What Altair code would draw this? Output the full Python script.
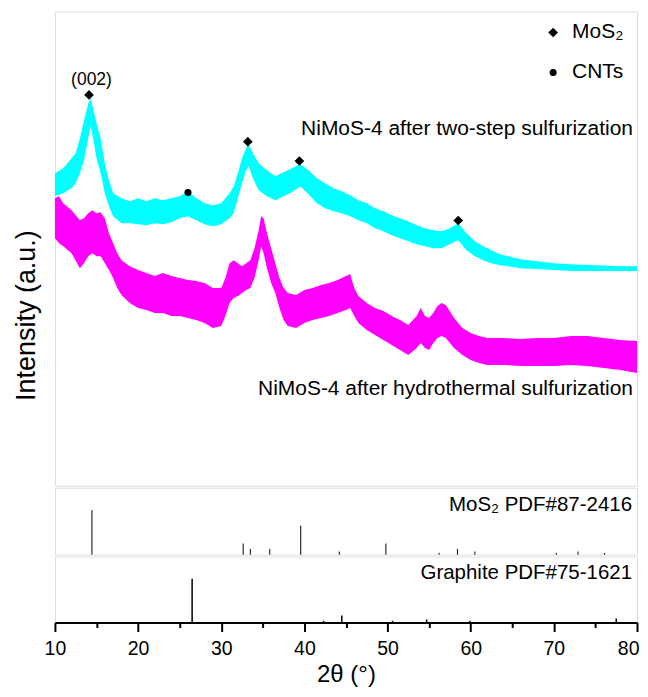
import altair as alt
import pandas as pd

# ---------------- data ----------------
# NiMoS-4 after two-step sulfurization (cyan): noisy band upper / lower edge
two_x = [10, 11, 12, 12.5, 13, 13.5, 14, 14.3, 14.6, 15, 15.5, 16, 16.5, 17, 18, 19, 20, 21, 22, 23, 24, 25,
         26, 27, 28, 29, 30, 31, 31.5, 32, 32.5, 33, 33.3, 33.8, 34.5, 35.5, 36.5, 37.5, 38.5, 39.5, 40.5,
         41.5, 42.5, 43.5, 44.5, 45.5, 46.5, 47.5, 48.5, 49.5, 50.5, 51.5, 52.5, 53.5, 54.5, 55.5, 56.5,
         57.5, 58.5, 59.5, 60.5, 61.5, 62.5, 63.5, 64.5, 66, 68, 70, 72, 75, 78, 80]
two_hi = [313, 318, 328, 333, 348, 366, 383, 388, 378, 363, 348, 323, 306, 293, 288, 285, 288, 285, 288, 286,
          288, 290, 295, 288, 283, 281, 283, 293, 300, 313, 328, 338, 342, 333, 323, 316, 310, 314, 318, 322,
          316, 308, 303, 298, 295, 291, 286, 283, 278, 275, 271, 268, 265, 261, 258, 256, 255, 258, 263, 253,
          245, 240, 236, 232, 230, 227, 225, 223, 222, 221, 220, 220]
two_lo = [290, 293, 298, 303, 313, 326, 348, 360, 348, 328, 313, 293, 280, 270, 263, 263, 262, 261, 263, 262,
          264, 268, 270, 266, 262, 260, 262, 268, 273, 288, 303, 316, 320, 308, 296, 290, 286, 290, 294, 300,
          292, 283, 278, 275, 273, 270, 266, 263, 258, 255, 251, 248, 245, 242, 240, 238, 238, 242, 246, 236,
          230, 226, 223, 221, 220, 218, 217, 216, 215, 215, 215, 215]

# NiMoS-4 after hydrothermal sulfurization (magenta): noisy band upper / lower edge
hyd_x = [10, 10.5, 11, 12, 13, 13.5, 14, 14.5, 15, 15.5, 16, 16.5, 17, 17.5, 18, 19, 20, 21, 22, 23, 24, 25,
         26, 27, 28, 29, 30, 30.5, 31, 31.5, 32, 32.5, 33, 33.5, 34, 34.5, 34.8, 35.1, 35.5, 36, 36.5, 37,
         37.5, 38, 39, 40, 41, 42, 43, 44, 45, 45.5, 46, 46.5, 47.5, 48.5, 49.5, 50.5, 51.5, 52.5, 53.5, 54,
         54.5, 55, 55.5, 56, 56.5, 57, 58, 59, 60, 61, 62, 64, 66, 68, 70, 72, 74, 76, 78, 80]
hyd_hi = [288, 290, 283, 276, 266, 268, 273, 276, 273, 274, 268, 253, 243, 233, 226, 220, 216, 213, 210, 213,
          210, 208, 206, 205, 203, 198, 198, 208, 223, 226, 223, 220, 223, 226, 238, 256, 270, 268, 253, 238,
          223, 208, 198, 193, 191, 196, 198, 201, 203, 206, 210, 212, 198, 190, 183, 178, 175, 170, 166, 161,
          170, 178, 170, 168, 173, 180, 183, 181, 168, 158, 153, 150, 148, 148, 147, 148, 148, 150, 150, 148,
          146, 145]
hyd_lo = [248, 243, 240, 233, 218, 223, 230, 233, 230, 230, 223, 216, 208, 198, 191, 183, 178, 176, 173, 173,
          170, 170, 168, 166, 163, 158, 160, 170, 183, 188, 190, 193, 196, 198, 208, 226, 240, 233, 218, 203,
          193, 178, 166, 160, 158, 163, 166, 168, 170, 173, 176, 178, 170, 163, 156, 151, 146, 141, 136, 131,
          138, 143, 138, 136, 143, 148, 150, 148, 138, 131, 126, 123, 121, 121, 120, 120, 120, 121, 120, 118,
          116, 113]

# peak markers
mark_x = [14.1, 33.2, 39.4, 58.5, 26.0]
mark_y = [391.5, 344.7, 325.3, 265.7, 293.7]
mark_kind = ["MoS₂", "MoS₂", "MoS₂", "MoS₂", "CNTs"]

# standard patterns (relative intensity)
mos2_pos = [14.45, 32.64, 33.5, 35.84, 39.56, 44.2, 49.8, 56.2, 58.4, 60.5, 70.3, 72.9, 76.1]
mos2_int = [100, 25, 13, 13, 65, 7, 25, 4, 13, 7, 4, 7, 4]
gr_pos = [26.5, 42.3, 44.5, 50.6, 54.7, 59.9, 77.5]
gr_int = [100, 4, 16, 4, 7, 4, 9]

# annotation texts
top_labels = ["NiMoS-4 after two-step sulfurization", "NiMoS-4 after hydrothermal sulfurization"]
top_label_y = [351, 90.5]
peak_label = ["(002)"]
peak_label_x = [14.4]
peak_label_y = [401]
mos2_label = ["MoS₂ PDF#87-2416"]
gr_label = ["Graphite PDF#75-1621"]
ref_label_y = [99]

# ---------------- chart ----------------
FONT = "Liberation Sans"
W = 583
xscale = alt.Scale(domain=[10, 80], nice=False, zero=False)
ytop = alt.Scale(domain=[0, 475], nice=False, zero=False)
yref = alt.Scale(domain=[0, 150], nice=False, zero=False)

yaxis_top = alt.Axis(title="Intensity (a.u.)", ticks=False, labels=False, domain=False, grid=False,
                     titleFont=FONT, titleFontSize=27, titleFontWeight="normal", titleColor="black",
                     titlePadding=14, titleY=304)

two = pd.DataFrame({"x": two_x, "hi": two_hi, "lo": two_lo})
hyd = pd.DataFrame({"x": hyd_x, "hi": hyd_hi, "lo": hyd_lo})
marks = pd.DataFrame({"x": mark_x, "y": mark_y, "kind": mark_kind})
toplab = pd.DataFrame({"x": [80, 80], "y": top_label_y, "t": top_labels})
peaklab = pd.DataFrame({"x": peak_label_x, "y": peak_label_y, "t": peak_label})

legend_cfg = dict(title=None, orient="none", legendX=488.5, legendY=10.5,
                  labelFont=FONT, labelFontSize=21, labelColor="black",
                  symbolFillColor="black", symbolStrokeColor="black",
                  symbolStrokeWidth=0, rowPadding=18, labelOffset=8.5, padding=0)

band_two = alt.Chart(two).mark_area(color="#00FFFF", interpolate="linear", opacity=1).encode(
    x=alt.X("x:Q", scale=xscale, axis=None),
    y=alt.Y("hi:Q", scale=ytop, axis=yaxis_top),
    y2="lo:Q",
)
band_hyd = alt.Chart(hyd).mark_area(color="#FF00FF", interpolate="linear", opacity=1).encode(
    x=alt.X("x:Q", scale=xscale, axis=None),
    y=alt.Y("hi:Q", scale=ytop, axis=yaxis_top),
    y2="lo:Q",
)
pts = alt.Chart(marks).mark_point(filled=True, color="black", opacity=1).encode(
    x=alt.X("x:Q", scale=xscale, axis=None),
    y=alt.Y("y:Q", scale=ytop, axis=yaxis_top),
    shape=alt.Shape("kind:N",
                    scale=alt.Scale(domain=["MoS₂", "CNTs"], range=["diamond", "circle"]),
                    legend=alt.Legend(**legend_cfg)),
    size=alt.Size("kind:N",
                  scale=alt.Scale(domain=["MoS₂", "CNTs"], range=[95, 50]),
                  legend=alt.Legend(**legend_cfg)),
)
txt_top = alt.Chart(toplab).mark_text(align="right", baseline="alphabetic", font=FONT, fontSize=21,
                                      color="black", dx=-4).encode(
    x=alt.X("x:Q", scale=xscale, axis=None),
    y=alt.Y("y:Q", scale=ytop, axis=yaxis_top),
    text="t:N",
)
txt_peak = alt.Chart(peaklab).mark_text(align="center", baseline="alphabetic", font=FONT, fontSize=17.5,
                                        color="black").encode(
    x=alt.X("x:Q", scale=xscale, axis=None),
    y=alt.Y("y:Q", scale=ytop, axis=yaxis_top),
    text="t:N",
)
top = alt.layer(band_two, band_hyd, pts, txt_top, txt_peak).properties(width=W, height=475)

# middle: MoS2 reference
mos = pd.DataFrame({"x": mos2_pos, "i": mos2_int, "z": [0] * len(mos2_pos)})
moslab = pd.DataFrame({"x": [80], "y": ref_label_y, "t": mos2_label})
rules_mos = alt.Chart(mos).mark_rule(color="black", strokeWidth=1).encode(
    x=alt.X("x:Q", scale=xscale, axis=None),
    y=alt.Y("z:Q", scale=yref, axis=None),
    y2="i:Q",
)
txt_mos = alt.Chart(moslab).mark_text(align="right", baseline="alphabetic", font=FONT, fontSize=20.5,
                                      color="black", dx=-5).encode(
    x=alt.X("x:Q", scale=xscale, axis=None),
    y=alt.Y("y:Q", scale=yref, axis=None),
    text="t:N",
)
mid = alt.layer(rules_mos, txt_mos).properties(width=W, height=67)

# bottom: graphite reference with the x axis
xaxis = alt.Axis(values=list(range(10, 81, 5)),
                 labelExpr="datum.value % 10 === 0 ? datum.label : ''",
                 labelAlign={"condition": {"test": "datum.value === 80", "value": "right"}, "value": "center"},
                 labelOffset={"condition": {"test": "datum.value === 80", "value": 2}, "value": 0},
                 tickSize={"condition": {"test": "datum.value % 10 === 0", "value": 9}, "value": 5},
                 tickWidth=2, tickColor="black", domain=True, domainColor="black", domainWidth=2,
                 labelFont=FONT, labelFontSize=19.5, labelColor="black", labelPadding=8,
                 labelFlush=False, labelOverlap=False, grid=False,
                 title="2θ (°)", titleFont=FONT, titleFontSize=24, titleFontWeight="normal",
                 titleColor="black", titlePadding=5)
gr = pd.DataFrame({"x": gr_pos, "i": gr_int, "z": [0] * len(gr_pos)})
grlab = pd.DataFrame({"x": [80], "y": ref_label_y, "t": gr_label})
rules_gr = alt.Chart(gr).mark_rule(color="black", strokeWidth=1.5).encode(
    x=alt.X("x:Q", scale=xscale, axis=xaxis),
    y=alt.Y("z:Q", scale=yref, axis=None),
    y2="i:Q",
)
txt_gr = alt.Chart(grlab).mark_text(align="right", baseline="alphabetic", font=FONT, fontSize=20.5,
                                    color="black", dx=-5).encode(
    x=alt.X("x:Q", scale=xscale, axis=xaxis),
    y=alt.Y("y:Q", scale=yref, axis=None),
    text="t:N",
)
bot = alt.layer(rules_gr, txt_gr).properties(width=W, height=66)

chart = alt.vconcat(top, mid, bot, spacing=0).resolve_scale(y="independent").properties(
    padding={"left": 4, "top": 2, "right": 0, "bottom": 0}
).configure_view(stroke="black", strokeWidth=2).configure(background="white")

chart.save("out.html", embed_options={"renderer": "svg", "actions": False})
